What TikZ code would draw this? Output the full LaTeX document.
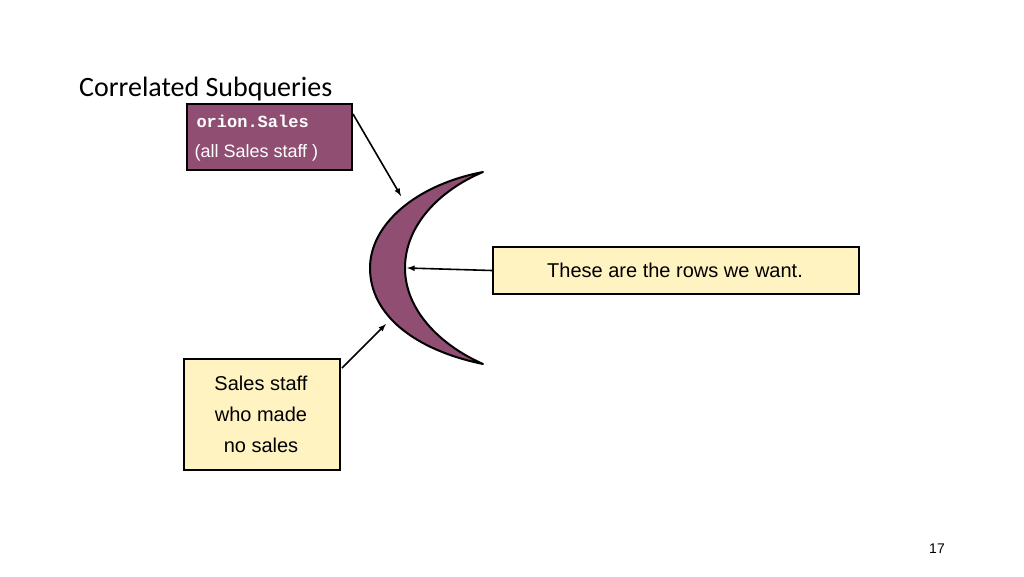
\documentclass[tikz,border=0pt]{standalone}
\usepackage{fontspec}
\setmainfont{Liberation Sans}
\newfontfamily\titlefont{Carlito}
\newfontfamily\monofont{Liberation Mono}
\begin{document}
\begin{tikzpicture}[x=1pt,y=-1pt,
  box/.style={draw=black,line width=2pt,inner sep=0pt,anchor=north west},
  arr/.style={-latex,line width=1.6pt}]
\definecolor{plum}{HTML}{8F4E72}
\definecolor{cream}{HTML}{FFF3C2}
\useasboundingbox (0,0) rectangle (1024,576);
\node[anchor=base west,inner sep=0pt,font=\titlefont\fontsize{28}{30}\selectfont] (title) at (79,96) {Correlated Subqueries};
\node[box,fill=plum,minimum width=165pt,minimum height=66pt] (orion) at (186,103) {};
\node[anchor=west,text=white,font=\monofont\bfseries\fontsize{17}{20}\selectfont] (ot) at (193,121) {orion.Sales};
\node[anchor=west,text=white,font=\fontsize{18}{20}\selectfont] (ot2) at (191,153) {(all Sales staff )};
\node[box,fill=cream,minimum width=366pt,minimum height=47pt] (want) at (492,246) {};
\node[font=\fontsize{20}{22}\selectfont] (wt) at (675,270) {These are the rows we want.};
\node[box,fill=cream,minimum width=156pt,minimum height=111pt,
  align=center,font=\fontsize{20}{31}\selectfont] (none) at (183,358) {};
\node[align=center,font=\fontsize{20}{31}\selectfont] (nt) at (261,414) {Sales staff\\who made\\no sales};
\draw[fill=plum,line width=2pt,line join=round] (483,172) .. controls (415,185) and (370,225) .. (370,268)
  .. controls (370,315) and (415,350) .. (483,364)
  .. controls (440,345) and (405,310) .. (405,268)
  .. controls (405,225) and (440,190) .. cycle;
\coordinate (c1) at (401,196);
\coordinate (c2) at (407,268);
\coordinate (c3) at (386,324);
\draw[arr] (orion.east) ++(0,-23) -- (c1);
\draw[arr] (want.west) -- (c2);
\draw[arr] (none.north east) ++(1,10) -- (c3);
\node[font=\fontsize{14}{16}\selectfont] (pg) at (937,549) {17};
\end{tikzpicture}
\end{document}
